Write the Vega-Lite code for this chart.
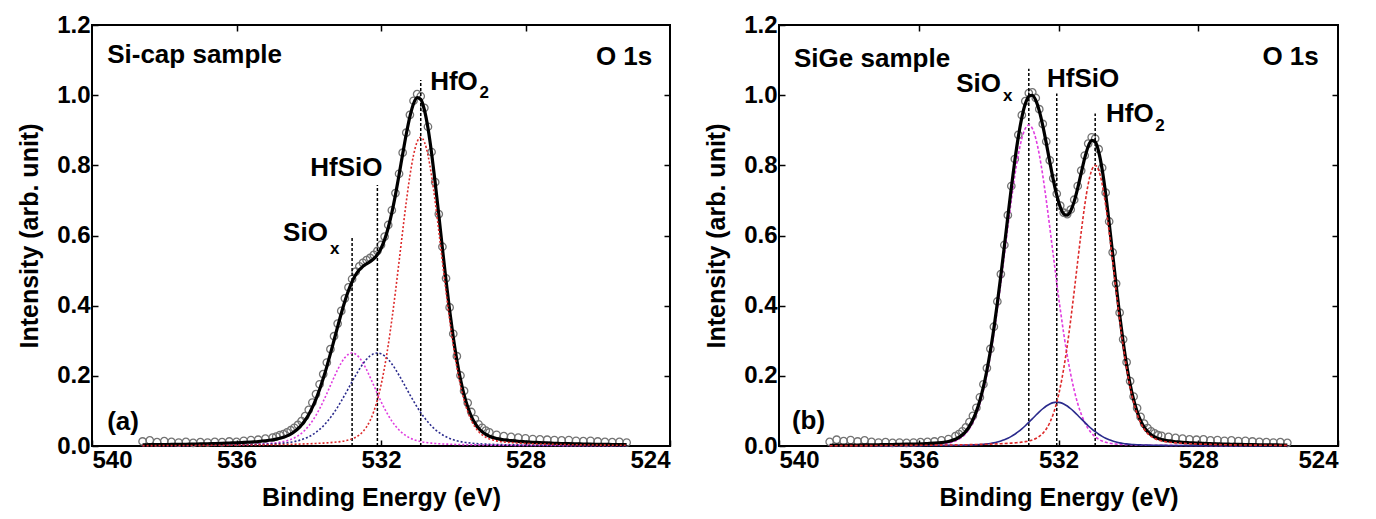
{
  "$schema": "https://vega.github.io/schema/vega-lite/v6.json",
  "padding": {"left": 16, "top": 12, "right": 5, "bottom": 2},
  "spacing": 31,
  "config": {
    "view": {"stroke": "black", "strokeWidth": 2},
    "axis": {
      "labelFont": "Liberation Sans", "labelFontWeight": "bold", "labelFontSize": 24, "labelColor": "black",
      "titleFont": "Liberation Sans", "titleFontWeight": "bold", "titleFontSize": 25, "titleColor": "black",
      "tickColor": "black", "tickWidth": 1.5, "tickSize": -6, "domain": false, "grid": false, "labelPadding": 8
    },
    "axisX": {"titlePadding": 13},
    "axisY": {"titlePadding": 14}
  },
  "datasets": {
    "a": [
      {"E":538.6,"M":0.0012,"B":0.0012,"R":0.0010,"fit":0.0034,"obs":0.013},
      {"E":538.4,"M":0.0013,"B":0.0013,"R":0.0011,"fit":0.0037,"obs":0.016},
      {"E":538.2,"M":0.0014,"B":0.0013,"R":0.0012,"fit":0.0039,"obs":0.011},
      {"E":538.0,"M":0.0015,"B":0.0014,"R":0.0013,"fit":0.0042,"obs":0.014},
      {"E":537.8,"M":0.0016,"B":0.0015,"R":0.0013,"fit":0.0044,"obs":0.012},
      {"E":537.6,"M":0.0017,"B":0.0016,"R":0.0014,"fit":0.0047,"obs":0.010},
      {"E":537.4,"M":0.0018,"B":0.0017,"R":0.0015,"fit":0.0050,"obs":0.012},
      {"E":537.2,"M":0.0020,"B":0.0018,"R":0.0016,"fit":0.0054,"obs":0.009},
      {"E":537.0,"M":0.0022,"B":0.0020,"R":0.0017,"fit":0.0059,"obs":0.011},
      {"E":536.8,"M":0.0024,"B":0.0022,"R":0.0018,"fit":0.0064,"obs":0.010},
      {"E":536.6,"M":0.0026,"B":0.0024,"R":0.0020,"fit":0.0070,"obs":0.012},
      {"E":536.4,"M":0.0029,"B":0.0026,"R":0.0021,"fit":0.0076,"obs":0.011},
      {"E":536.2,"M":0.0033,"B":0.0029,"R":0.0023,"fit":0.0085,"obs":0.013},
      {"E":536.0,"M":0.0037,"B":0.0031,"R":0.0024,"fit":0.0092,"obs":0.012},
      {"E":535.8,"M":0.0041,"B":0.0034,"R":0.0027,"fit":0.0102,"obs":0.015},
      {"E":535.6,"M":0.0047,"B":0.0038,"R":0.0029,"fit":0.0114,"obs":0.017},
      {"E":535.4,"M":0.0055,"B":0.0043,"R":0.0031,"fit":0.0129,"obs":0.018},
      {"E":535.2,"M":0.0065,"B":0.0050,"R":0.0034,"fit":0.0149,"obs":0.021},
      {"E":535.0,"M":0.0081,"B":0.0059,"R":0.0037,"fit":0.0177,"obs":0.024},
      {"E":534.9,"M":0.0092,"B":0.0064,"R":0.0039,"fit":0.0195,"obs":0.027},
      {"E":534.8,"M":0.0106,"B":0.0072,"R":0.0041,"fit":0.0219,"obs":0.031},
      {"E":534.7,"M":0.0125,"B":0.0081,"R":0.0043,"fit":0.0249,"obs":0.034},
      {"E":534.6,"M":0.0151,"B":0.0092,"R":0.0045,"fit":0.0288,"obs":0.039},
      {"E":534.5,"M":0.0185,"B":0.0107,"R":0.0048,"fit":0.0340,"obs":0.045},
      {"E":534.4,"M":0.0229,"B":0.0126,"R":0.0051,"fit":0.0406,"obs":0.052},
      {"E":534.3,"M":0.0288,"B":0.0149,"R":0.0054,"fit":0.0491,"obs":0.060},
      {"E":534.2,"M":0.0362,"B":0.0179,"R":0.0057,"fit":0.0598,"obs":0.071},
      {"E":534.1,"M":0.0457,"B":0.0217,"R":0.0060,"fit":0.0734,"obs":0.085},
      {"E":534.0,"M":0.0572,"B":0.0263,"R":0.0064,"fit":0.0899,"obs":0.103},
      {"E":533.9,"M":0.0712,"B":0.0320,"R":0.0068,"fit":0.1100,"obs":0.124},
      {"E":533.8,"M":0.0875,"B":0.0389,"R":0.0073,"fit":0.1337,"obs":0.148},
      {"E":533.7,"M":0.1062,"B":0.0471,"R":0.0078,"fit":0.1611,"obs":0.176},
      {"E":533.6,"M":0.1270,"B":0.0568,"R":0.0083,"fit":0.1921,"obs":0.205},
      {"E":533.5,"M":0.1494,"B":0.0681,"R":0.0089,"fit":0.2264,"obs":0.238},
      {"E":533.4,"M":0.1726,"B":0.0809,"R":0.0097,"fit":0.2632,"obs":0.276},
      {"E":533.3,"M":0.1957,"B":0.0952,"R":0.0106,"fit":0.3015,"obs":0.313},
      {"E":533.2,"M":0.2176,"B":0.1110,"R":0.0116,"fit":0.3402,"obs":0.349},
      {"E":533.1,"M":0.2368,"B":0.1281,"R":0.0129,"fit":0.3778,"obs":0.385},
      {"E":533.0,"M":0.2519,"B":0.1460,"R":0.0147,"fit":0.4126,"obs":0.421},
      {"E":532.9,"M":0.2616,"B":0.1646,"R":0.0171,"fit":0.4433,"obs":0.452},
      {"E":532.8,"M":0.2650,"B":0.1833,"R":0.0203,"fit":0.4686,"obs":0.476},
      {"E":532.7,"M":0.2616,"B":0.2015,"R":0.0250,"fit":0.4881,"obs":0.497},
      {"E":532.6,"M":0.2519,"B":0.2187,"R":0.0317,"fit":0.5023,"obs":0.512},
      {"E":532.5,"M":0.2368,"B":0.2340,"R":0.0412,"fit":0.5120,"obs":0.522},
      {"E":532.4,"M":0.2176,"B":0.2470,"R":0.0547,"fit":0.5193,"obs":0.530},
      {"E":532.3,"M":0.1957,"B":0.2568,"R":0.0731,"fit":0.5256,"obs":0.536},
      {"E":532.2,"M":0.1726,"B":0.2629,"R":0.0982,"fit":0.5337,"obs":0.545},
      {"E":532.1,"M":0.1494,"B":0.2650,"R":0.1310,"fit":0.5454,"obs":0.556},
      {"E":532.0,"M":0.1270,"B":0.2629,"R":0.1731,"fit":0.5630,"obs":0.573},
      {"E":531.9,"M":0.1062,"B":0.2568,"R":0.2252,"fit":0.5882,"obs":0.597},
      {"E":531.8,"M":0.0875,"B":0.2470,"R":0.2876,"fit":0.6221,"obs":0.630},
      {"E":531.7,"M":0.0712,"B":0.2340,"R":0.3597,"fit":0.6649,"obs":0.672},
      {"E":531.6,"M":0.0572,"B":0.2187,"R":0.4400,"fit":0.7159,"obs":0.721},
      {"E":531.5,"M":0.0457,"B":0.2015,"R":0.5256,"fit":0.7728,"obs":0.776},
      {"E":531.4,"M":0.0362,"B":0.1833,"R":0.6126,"fit":0.8321,"obs":0.836},
      {"E":531.3,"M":0.0288,"B":0.1646,"R":0.6961,"fit":0.8895,"obs":0.893},
      {"E":531.2,"M":0.0229,"B":0.1460,"R":0.7701,"fit":0.9390,"obs":0.944},
      {"E":531.1,"M":0.0185,"B":0.1281,"R":0.8290,"fit":0.9756,"obs":0.984},
      {"E":531.0,"M":0.0151,"B":0.1110,"R":0.8669,"fit":0.9930,"obs":1.003},
      {"E":530.9,"M":0.0125,"B":0.0952,"R":0.8800,"fit":0.9877,"obs":0.997},
      {"E":530.8,"M":0.0106,"B":0.0809,"R":0.8669,"fit":0.9584,"obs":0.964},
      {"E":530.7,"M":0.0092,"B":0.0681,"R":0.8290,"fit":0.9063,"obs":0.910},
      {"E":530.6,"M":0.0081,"B":0.0568,"R":0.7701,"fit":0.8350,"obs":0.838},
      {"E":530.5,"M":0.0072,"B":0.0471,"R":0.6961,"fit":0.7504,"obs":0.752},
      {"E":530.4,"M":0.0065,"B":0.0389,"R":0.6126,"fit":0.6580,"obs":0.661},
      {"E":530.3,"M":0.0059,"B":0.0320,"R":0.5256,"fit":0.5635,"obs":0.568},
      {"E":530.2,"M":0.0055,"B":0.0263,"R":0.4400,"fit":0.4718,"obs":0.478},
      {"E":530.1,"M":0.0051,"B":0.0217,"R":0.3597,"fit":0.3865,"obs":0.395},
      {"E":530.0,"M":0.0047,"B":0.0179,"R":0.2876,"fit":0.3102,"obs":0.320},
      {"E":529.9,"M":0.0044,"B":0.0149,"R":0.2252,"fit":0.2445,"obs":0.256},
      {"E":529.8,"M":0.0041,"B":0.0126,"R":0.1731,"fit":0.1898,"obs":0.201},
      {"E":529.7,"M":0.0039,"B":0.0107,"R":0.1310,"fit":0.1456,"obs":0.157},
      {"E":529.6,"M":0.0037,"B":0.0092,"R":0.0982,"fit":0.1111,"obs":0.123},
      {"E":529.5,"M":0.0035,"B":0.0081,"R":0.0731,"fit":0.0847,"obs":0.097},
      {"E":529.4,"M":0.0033,"B":0.0072,"R":0.0547,"fit":0.0652,"obs":0.077},
      {"E":529.3,"M":0.0031,"B":0.0064,"R":0.0412,"fit":0.0507,"obs":0.062},
      {"E":529.2,"M":0.0029,"B":0.0059,"R":0.0317,"fit":0.0405,"obs":0.052},
      {"E":529.1,"M":0.0028,"B":0.0054,"R":0.0250,"fit":0.0332,"obs":0.044},
      {"E":529.0,"M":0.0026,"B":0.0050,"R":0.0203,"fit":0.0279,"obs":0.039},
      {"E":528.8,"M":0.0024,"B":0.0043,"R":0.0147,"fit":0.0214,"obs":0.032},
      {"E":528.6,"M":0.0022,"B":0.0038,"R":0.0116,"fit":0.0176,"obs":0.028},
      {"E":528.4,"M":0.0020,"B":0.0034,"R":0.0097,"fit":0.0151,"obs":0.026},
      {"E":528.2,"M":0.0018,"B":0.0031,"R":0.0083,"fit":0.0132,"obs":0.024},
      {"E":528.0,"M":0.0017,"B":0.0029,"R":0.0073,"fit":0.0119,"obs":0.022},
      {"E":527.8,"M":0.0016,"B":0.0026,"R":0.0064,"fit":0.0106,"obs":0.020},
      {"E":527.6,"M":0.0015,"B":0.0024,"R":0.0057,"fit":0.0096,"obs":0.019},
      {"E":527.4,"M":0.0014,"B":0.0022,"R":0.0051,"fit":0.0087,"obs":0.018},
      {"E":527.2,"M":0.0013,"B":0.0020,"R":0.0045,"fit":0.0078,"obs":0.017},
      {"E":527.0,"M":0.0012,"B":0.0018,"R":0.0041,"fit":0.0071,"obs":0.016},
      {"E":526.8,"M":0.0011,"B":0.0017,"R":0.0037,"fit":0.0065,"obs":0.017},
      {"E":526.6,"M":0.0010,"B":0.0016,"R":0.0034,"fit":0.0060,"obs":0.015},
      {"E":526.4,"M":0.0010,"B":0.0015,"R":0.0031,"fit":0.0056,"obs":0.014},
      {"E":526.2,"M":0.0009,"B":0.0014,"R":0.0029,"fit":0.0052,"obs":0.015},
      {"E":526.0,"M":0.0008,"B":0.0013,"R":0.0026,"fit":0.0047,"obs":0.013},
      {"E":525.8,"M":0.0008,"B":0.0013,"R":0.0024,"fit":0.0045,"obs":0.012},
      {"E":525.6,"M":0.0007,"B":0.0012,"R":0.0023,"fit":0.0042,"obs":0.011},
      {"E":525.4,"M":0.0007,"B":0.0011,"R":0.0021,"fit":0.0039,"obs":0.012},
      {"E":525.2,"M":0.0007,"B":0.0011,"R":0.0020,"fit":0.0038,"obs":0.010}
    ],
    "b": [
      {"E":538.55,"M":0.0009,"B":0.0004,"R":0.0009,"fit":0.0022,"obs":0.012},
      {"E":538.35,"M":0.0010,"B":0.0004,"R":0.0009,"fit":0.0023,"obs":0.018},
      {"E":538.15,"M":0.0010,"B":0.0005,"R":0.0010,"fit":0.0025,"obs":0.014},
      {"E":537.95,"M":0.0011,"B":0.0005,"R":0.0010,"fit":0.0026,"obs":0.017},
      {"E":537.75,"M":0.0012,"B":0.0006,"R":0.0011,"fit":0.0029,"obs":0.013},
      {"E":537.55,"M":0.0013,"B":0.0006,"R":0.0012,"fit":0.0031,"obs":0.016},
      {"E":537.35,"M":0.0014,"B":0.0007,"R":0.0012,"fit":0.0033,"obs":0.012},
      {"E":537.15,"M":0.0016,"B":0.0007,"R":0.0013,"fit":0.0036,"obs":0.010},
      {"E":536.95,"M":0.0017,"B":0.0008,"R":0.0014,"fit":0.0039,"obs":0.011},
      {"E":536.75,"M":0.0019,"B":0.0009,"R":0.0015,"fit":0.0043,"obs":0.009},
      {"E":536.55,"M":0.0021,"B":0.0009,"R":0.0016,"fit":0.0046,"obs":0.010},
      {"E":536.35,"M":0.0023,"B":0.0010,"R":0.0018,"fit":0.0051,"obs":0.009},
      {"E":536.15,"M":0.0026,"B":0.0011,"R":0.0019,"fit":0.0056,"obs":0.010},
      {"E":535.95,"M":0.0029,"B":0.0012,"R":0.0020,"fit":0.0061,"obs":0.011},
      {"E":535.75,"M":0.0035,"B":0.0013,"R":0.0022,"fit":0.0070,"obs":0.012},
      {"E":535.55,"M":0.0042,"B":0.0014,"R":0.0024,"fit":0.0080,"obs":0.013},
      {"E":535.35,"M":0.0056,"B":0.0016,"R":0.0026,"fit":0.0098,"obs":0.016},
      {"E":535.15,"M":0.0083,"B":0.0018,"R":0.0029,"fit":0.0130,"obs":0.020},
      {"E":534.95,"M":0.0142,"B":0.0020,"R":0.0031,"fit":0.0193,"obs":0.028},
      {"E":534.85,"M":0.0191,"B":0.0022,"R":0.0032,"fit":0.0245,"obs":0.034},
      {"E":534.75,"M":0.0263,"B":0.0023,"R":0.0034,"fit":0.0320,"obs":0.042},
      {"E":534.65,"M":0.0360,"B":0.0026,"R":0.0036,"fit":0.0422,"obs":0.053},
      {"E":534.55,"M":0.0495,"B":0.0028,"R":0.0038,"fit":0.0561,"obs":0.068},
      {"E":534.45,"M":0.0675,"B":0.0032,"R":0.0040,"fit":0.0747,"obs":0.086},
      {"E":534.35,"M":0.0910,"B":0.0036,"R":0.0042,"fit":0.0988,"obs":0.109},
      {"E":534.25,"M":0.1211,"B":0.0042,"R":0.0045,"fit":0.1298,"obs":0.139},
      {"E":534.15,"M":0.1586,"B":0.0050,"R":0.0048,"fit":0.1684,"obs":0.176},
      {"E":534.05,"M":0.2042,"B":0.0060,"R":0.0051,"fit":0.2153,"obs":0.222},
      {"E":533.95,"M":0.2582,"B":0.0073,"R":0.0054,"fit":0.2709,"obs":0.277},
      {"E":533.85,"M":0.3203,"B":0.0090,"R":0.0057,"fit":0.3350,"obs":0.340},
      {"E":533.75,"M":0.3900,"B":0.0113,"R":0.0061,"fit":0.4074,"obs":0.412},
      {"E":533.65,"M":0.4653,"B":0.0141,"R":0.0066,"fit":0.4860,"obs":0.490},
      {"E":533.55,"M":0.5442,"B":0.0176,"R":0.0071,"fit":0.5689,"obs":0.573},
      {"E":533.45,"M":0.6238,"B":0.0220,"R":0.0076,"fit":0.6534,"obs":0.658},
      {"E":533.35,"M":0.7006,"B":0.0273,"R":0.0082,"fit":0.7361,"obs":0.741},
      {"E":533.25,"M":0.7709,"B":0.0335,"R":0.0090,"fit":0.8134,"obs":0.818},
      {"E":533.15,"M":0.8306,"B":0.0407,"R":0.0098,"fit":0.8811,"obs":0.887},
      {"E":533.05,"M":0.8764,"B":0.0488,"R":0.0110,"fit":0.9362,"obs":0.943},
      {"E":532.95,"M":0.9052,"B":0.0578,"R":0.0124,"fit":0.9754,"obs":0.983},
      {"E":532.85,"M":0.9150,"B":0.0674,"R":0.0144,"fit":0.9968,"obs":1.006},
      {"E":532.75,"M":0.9052,"B":0.0774,"R":0.0172,"fit":0.9998,"obs":1.008},
      {"E":532.65,"M":0.8764,"B":0.0875,"R":0.0212,"fit":0.9851,"obs":0.992},
      {"E":532.55,"M":0.8306,"B":0.0972,"R":0.0273,"fit":0.9551,"obs":0.960},
      {"E":532.45,"M":0.7709,"B":0.1062,"R":0.0359,"fit":0.9130,"obs":0.918},
      {"E":532.35,"M":0.7006,"B":0.1140,"R":0.0486,"fit":0.8632,"obs":0.868},
      {"E":532.25,"M":0.6238,"B":0.1199,"R":0.0665,"fit":0.8102,"obs":0.814},
      {"E":532.15,"M":0.5442,"B":0.1237,"R":0.0913,"fit":0.7592,"obs":0.763},
      {"E":532.05,"M":0.4653,"B":0.1250,"R":0.1245,"fit":0.7148,"obs":0.719},
      {"E":531.95,"M":0.3900,"B":0.1237,"R":0.1674,"fit":0.6811,"obs":0.685},
      {"E":531.85,"M":0.3203,"B":0.1199,"R":0.2212,"fit":0.6614,"obs":0.665},
      {"E":531.75,"M":0.2582,"B":0.1140,"R":0.2856,"fit":0.6578,"obs":0.661},
      {"E":531.65,"M":0.2042,"B":0.1062,"R":0.3600,"fit":0.6704,"obs":0.674},
      {"E":531.55,"M":0.1586,"B":0.0972,"R":0.4415,"fit":0.6973,"obs":0.702},
      {"E":531.45,"M":0.1211,"B":0.0875,"R":0.5266,"fit":0.7352,"obs":0.741},
      {"E":531.35,"M":0.0910,"B":0.0774,"R":0.6100,"fit":0.7784,"obs":0.785},
      {"E":531.25,"M":0.0675,"B":0.0674,"R":0.6856,"fit":0.8205,"obs":0.828},
      {"E":531.15,"M":0.0495,"B":0.0578,"R":0.7464,"fit":0.8537,"obs":0.862},
      {"E":531.05,"M":0.0360,"B":0.0488,"R":0.7861,"fit":0.8709,"obs":0.880},
      {"E":530.95,"M":0.0263,"B":0.0407,"R":0.8000,"fit":0.8670,"obs":0.876},
      {"E":530.85,"M":0.0191,"B":0.0335,"R":0.7861,"fit":0.8387,"obs":0.846},
      {"E":530.75,"M":0.0142,"B":0.0273,"R":0.7464,"fit":0.7879,"obs":0.793},
      {"E":530.65,"M":0.0107,"B":0.0220,"R":0.6856,"fit":0.7183,"obs":0.722},
      {"E":530.55,"M":0.0083,"B":0.0176,"R":0.6100,"fit":0.6359,"obs":0.640},
      {"E":530.45,"M":0.0067,"B":0.0141,"R":0.5266,"fit":0.5474,"obs":0.552},
      {"E":530.35,"M":0.0056,"B":0.0113,"R":0.4415,"fit":0.4584,"obs":0.463},
      {"E":530.25,"M":0.0047,"B":0.0090,"R":0.3600,"fit":0.3737,"obs":0.380},
      {"E":530.15,"M":0.0042,"B":0.0073,"R":0.2856,"fit":0.2971,"obs":0.304},
      {"E":530.05,"M":0.0038,"B":0.0060,"R":0.2212,"fit":0.2310,"obs":0.239},
      {"E":529.95,"M":0.0035,"B":0.0050,"R":0.1674,"fit":0.1759,"obs":0.185},
      {"E":529.85,"M":0.0031,"B":0.0042,"R":0.1245,"fit":0.1318,"obs":0.141},
      {"E":529.75,"M":0.0029,"B":0.0036,"R":0.0913,"fit":0.0978,"obs":0.108},
      {"E":529.65,"M":0.0028,"B":0.0032,"R":0.0665,"fit":0.0725,"obs":0.083},
      {"E":529.55,"M":0.0026,"B":0.0028,"R":0.0486,"fit":0.0540,"obs":0.064},
      {"E":529.45,"M":0.0025,"B":0.0026,"R":0.0359,"fit":0.0410,"obs":0.051},
      {"E":529.35,"M":0.0023,"B":0.0023,"R":0.0273,"fit":0.0319,"obs":0.042},
      {"E":529.25,"M":0.0022,"B":0.0022,"R":0.0212,"fit":0.0256,"obs":0.036},
      {"E":529.15,"M":0.0021,"B":0.0020,"R":0.0172,"fit":0.0213,"obs":0.031},
      {"E":529.05,"M":0.0020,"B":0.0019,"R":0.0144,"fit":0.0183,"obs":0.029},
      {"E":528.85,"M":0.0018,"B":0.0016,"R":0.0110,"fit":0.0144,"obs":0.026},
      {"E":528.65,"M":0.0017,"B":0.0015,"R":0.0090,"fit":0.0122,"obs":0.023},
      {"E":528.45,"M":0.0015,"B":0.0013,"R":0.0076,"fit":0.0104,"obs":0.021},
      {"E":528.25,"M":0.0014,"B":0.0012,"R":0.0066,"fit":0.0092,"obs":0.019},
      {"E":528.05,"M":0.0013,"B":0.0011,"R":0.0057,"fit":0.0081,"obs":0.018},
      {"E":527.85,"M":0.0012,"B":0.0010,"R":0.0051,"fit":0.0073,"obs":0.019},
      {"E":527.65,"M":0.0011,"B":0.0009,"R":0.0045,"fit":0.0065,"obs":0.016},
      {"E":527.45,"M":0.0010,"B":0.0009,"R":0.0040,"fit":0.0059,"obs":0.017},
      {"E":527.25,"M":0.0010,"B":0.0008,"R":0.0036,"fit":0.0054,"obs":0.015},
      {"E":527.05,"M":0.0009,"B":0.0007,"R":0.0032,"fit":0.0048,"obs":0.016},
      {"E":526.85,"M":0.0008,"B":0.0007,"R":0.0030,"fit":0.0045,"obs":0.014},
      {"E":526.65,"M":0.0008,"B":0.0006,"R":0.0027,"fit":0.0041,"obs":0.015},
      {"E":526.45,"M":0.0007,"B":0.0006,"R":0.0025,"fit":0.0038,"obs":0.013},
      {"E":526.25,"M":0.0007,"B":0.0005,"R":0.0023,"fit":0.0035,"obs":0.012},
      {"E":526.05,"M":0.0006,"B":0.0005,"R":0.0021,"fit":0.0032,"obs":0.011},
      {"E":525.85,"M":0.0006,"B":0.0005,"R":0.0020,"fit":0.0031,"obs":0.010},
      {"E":525.65,"M":0.0006,"B":0.0004,"R":0.0018,"fit":0.0028,"obs":0.011},
      {"E":525.45,"M":0.0005,"B":0.0004,"R":0.0017,"fit":0.0026,"obs":0.009}
    ],
    "aLines": [{"E":532.8,"lo":0,"top":0.593},{"E":532.1,"lo":0,"top":0.744},{"E":530.9,"lo":0,"top":1.043}],
    "bLines": [{"E":532.85,"lo":0,"top":1.075},{"E":532.05,"lo":0,"top":1.005},{"E":530.95,"lo":0,"top":0.948}],
    "aLeft": [{"E":539.58,"v":1.114,"t":"Si-cap sample"},{"E":539.58,"v":0.068,"t":"(a)"},{"E":534.71,"v":0.607,"t":"SiO"},{"E":533.96,"v":0.792,"t":"HfSiO"},{"E":530.64,"v":1.037,"t":"HfO"}],
    "aRight": [{"E":524.49,"v":1.109,"t":"O 1s"}],
    "aSub": [{"E":533.41,"v":0.561,"t":"x"},{"E":529.27,"v":1.006,"t":"2"}],
    "bLeft": [{"E":539.57,"v":1.104,"t":"SiGe sample"},{"E":539.63,"v":0.071,"t":"(b)"},{"E":534.93,"v":1.033,"t":"SiO"},{"E":532.33,"v":1.047,"t":"HfSiO"},{"E":530.64,"v":0.945,"t":"HfO"}],
    "bRight": [{"E":524.55,"v":1.11,"t":"O 1s"}],
    "bSub": [{"E":533.59,"v":0.999,"t":"x"},{"E":529.23,"v":0.911,"t":"2"}]
  },
  "hconcat": [
    {
      "width": 578, "height": 421,
      "resolve": {"axis": {"x": "independent", "y": "independent"}},
      "layer": [
        {"data": {"name": "a"}, "mark": {"type": "point", "shape": "circle", "filled": false, "size": 55, "stroke": "#737373", "strokeWidth": 1.3, "opacity": 1},
         "encoding": {
           "x": {"field": "E", "type": "quantitative", "scale": {"domain": [524, 540], "reverse": true, "zero": false, "nice": false}, "axis": {"orient": "bottom", "values": [524, 528, 532, 536, 540], "format": "d", "title": "Binding Energy (eV)"}},
           "y": {"field": "obs", "type": "quantitative", "scale": {"domain": [0, 1.2], "nice": false, "zero": false}, "axis": {"orient": "left", "values": [0, 0.2, 0.4, 0.6, 0.8, 1.0, 1.2], "format": ".1f", "title": "Intensity (arb. unit)"}}}},
        {"data": {"name": "aLines"}, "mark": {"type": "rule", "color": "black", "strokeWidth": 1.5, "strokeDash": [3, 2]},
         "encoding": {"x": {"field": "E", "type": "quantitative", "axis": {"orient": "bottom", "labels": false, "ticks": false, "domain": false, "title": null}}, "y": {"field": "lo", "type": "quantitative", "axis": {"orient": "left", "labels": false, "ticks": false, "domain": false, "title": null}}, "y2": {"field": "top"}}},
        {"data": {"name": "a"}, "mark": {"type": "line", "color": "#e03ce0", "strokeWidth": 1.6, "strokeDash": [2, 2], "interpolate": "monotone"},
         "encoding": {"x": {"field": "E", "type": "quantitative", "axis": {"orient": "bottom", "labels": false, "ticks": false, "domain": false, "title": null}}, "y": {"field": "M", "type": "quantitative", "axis": {"orient": "left", "labels": false, "ticks": false, "domain": false, "title": null}}}},
        {"data": {"name": "a"}, "mark": {"type": "line", "color": "#2a2a8c", "strokeWidth": 1.6, "strokeDash": [2, 2], "interpolate": "monotone"},
         "encoding": {"x": {"field": "E", "type": "quantitative", "axis": {"orient": "bottom", "labels": false, "ticks": false, "domain": false, "title": null}}, "y": {"field": "B", "type": "quantitative", "axis": {"orient": "left", "labels": false, "ticks": false, "domain": false, "title": null}}}},
        {"data": {"name": "a"}, "mark": {"type": "line", "color": "black", "strokeWidth": 3.2, "interpolate": "monotone"},
         "encoding": {
           "x": {"field": "E", "type": "quantitative", "axis": {"orient": "top", "values": [528, 532, 536], "labels": false, "title": null}},
           "y": {"field": "fit", "type": "quantitative", "axis": {"orient": "right", "values": [0.2, 0.4, 0.6, 0.8, 1.0], "labels": false, "title": null}}}},
        {"data": {"name": "a"}, "mark": {"type": "line", "color": "#dd2a2a", "strokeWidth": 1.6, "strokeDash": [2, 2], "interpolate": "monotone"},
         "encoding": {"x": {"field": "E", "type": "quantitative", "axis": {"orient": "bottom", "labels": false, "ticks": false, "domain": false, "title": null}}, "y": {"field": "R", "type": "quantitative", "axis": {"orient": "left", "labels": false, "ticks": false, "domain": false, "title": null}}}},
        {"data": {"name": "aLeft"}, "mark": {"type": "text", "align": "left", "baseline": "middle", "font": "Liberation Sans", "fontWeight": "bold", "fontSize": 26, "color": "black"},
         "encoding": {"x": {"field": "E", "type": "quantitative", "axis": {"orient": "bottom", "labels": false, "ticks": false, "domain": false, "title": null}}, "y": {"field": "v", "type": "quantitative", "axis": {"orient": "left", "labels": false, "ticks": false, "domain": false, "title": null}}, "text": {"field": "t", "type": "nominal"}}},
        {"data": {"name": "aRight"}, "mark": {"type": "text", "align": "right", "baseline": "middle", "font": "Liberation Sans", "fontWeight": "bold", "fontSize": 26, "color": "black"},
         "encoding": {"x": {"field": "E", "type": "quantitative", "axis": {"orient": "bottom", "labels": false, "ticks": false, "domain": false, "title": null}}, "y": {"field": "v", "type": "quantitative", "axis": {"orient": "left", "labels": false, "ticks": false, "domain": false, "title": null}}, "text": {"field": "t", "type": "nominal"}}},
        {"data": {"name": "aSub"}, "mark": {"type": "text", "align": "left", "baseline": "middle", "font": "Liberation Sans", "fontWeight": "bold", "fontSize": 17, "color": "black"},
         "encoding": {"x": {"field": "E", "type": "quantitative", "axis": {"orient": "bottom", "labels": false, "ticks": false, "domain": false, "title": null}}, "y": {"field": "v", "type": "quantitative", "axis": {"orient": "left", "labels": false, "ticks": false, "domain": false, "title": null}}, "text": {"field": "t", "type": "nominal"}}}
      ]
    },
    {
      "width": 559, "height": 421,
      "resolve": {"axis": {"x": "independent", "y": "independent"}},
      "layer": [
        {"data": {"name": "b"}, "mark": {"type": "point", "shape": "circle", "filled": false, "size": 55, "stroke": "#737373", "strokeWidth": 1.3, "opacity": 1},
         "encoding": {
           "x": {"field": "E", "type": "quantitative", "scale": {"domain": [524, 540], "reverse": true, "zero": false, "nice": false}, "axis": {"orient": "bottom", "values": [524, 528, 532, 536, 540], "format": "d", "title": "Binding Energy (eV)"}},
           "y": {"field": "obs", "type": "quantitative", "scale": {"domain": [0, 1.2], "nice": false, "zero": false}, "axis": {"orient": "left", "values": [0, 0.2, 0.4, 0.6, 0.8, 1.0, 1.2], "format": ".1f", "title": "Intensity (arb. unit)"}}}},
        {"data": {"name": "bLines"}, "mark": {"type": "rule", "color": "black", "strokeWidth": 1.5, "strokeDash": [3, 2]},
         "encoding": {"x": {"field": "E", "type": "quantitative", "axis": {"orient": "bottom", "labels": false, "ticks": false, "domain": false, "title": null}}, "y": {"field": "lo", "type": "quantitative", "axis": {"orient": "left", "labels": false, "ticks": false, "domain": false, "title": null}}, "y2": {"field": "top"}}},
        {"data": {"name": "b"}, "mark": {"type": "line", "color": "#e03ce0", "strokeWidth": 1.6, "strokeDash": [3, 2], "interpolate": "monotone"},
         "encoding": {"x": {"field": "E", "type": "quantitative", "axis": {"orient": "bottom", "labels": false, "ticks": false, "domain": false, "title": null}}, "y": {"field": "M", "type": "quantitative", "axis": {"orient": "left", "labels": false, "ticks": false, "domain": false, "title": null}}}},
        {"data": {"name": "b"}, "mark": {"type": "line", "color": "#2a2a8c", "strokeWidth": 1.6, "interpolate": "monotone"},
         "encoding": {"x": {"field": "E", "type": "quantitative", "axis": {"orient": "bottom", "labels": false, "ticks": false, "domain": false, "title": null}}, "y": {"field": "B", "type": "quantitative", "axis": {"orient": "left", "labels": false, "ticks": false, "domain": false, "title": null}}}},
        {"data": {"name": "b"}, "mark": {"type": "line", "color": "black", "strokeWidth": 3.2, "interpolate": "monotone"},
         "encoding": {
           "x": {"field": "E", "type": "quantitative", "axis": {"orient": "top", "values": [528, 532, 536], "labels": false, "title": null}},
           "y": {"field": "fit", "type": "quantitative", "axis": {"orient": "right", "values": [0.2, 0.4, 0.6, 0.8, 1.0], "labels": false, "title": null}}}},
        {"data": {"name": "b"}, "mark": {"type": "line", "color": "#dd2a2a", "strokeWidth": 1.6, "strokeDash": [3, 2], "interpolate": "monotone"},
         "encoding": {"x": {"field": "E", "type": "quantitative", "axis": {"orient": "bottom", "labels": false, "ticks": false, "domain": false, "title": null}}, "y": {"field": "R", "type": "quantitative", "axis": {"orient": "left", "labels": false, "ticks": false, "domain": false, "title": null}}}},
        {"data": {"name": "bLeft"}, "mark": {"type": "text", "align": "left", "baseline": "middle", "font": "Liberation Sans", "fontWeight": "bold", "fontSize": 26, "color": "black"},
         "encoding": {"x": {"field": "E", "type": "quantitative", "axis": {"orient": "bottom", "labels": false, "ticks": false, "domain": false, "title": null}}, "y": {"field": "v", "type": "quantitative", "axis": {"orient": "left", "labels": false, "ticks": false, "domain": false, "title": null}}, "text": {"field": "t", "type": "nominal"}}},
        {"data": {"name": "bRight"}, "mark": {"type": "text", "align": "right", "baseline": "middle", "font": "Liberation Sans", "fontWeight": "bold", "fontSize": 26, "color": "black"},
         "encoding": {"x": {"field": "E", "type": "quantitative", "axis": {"orient": "bottom", "labels": false, "ticks": false, "domain": false, "title": null}}, "y": {"field": "v", "type": "quantitative", "axis": {"orient": "left", "labels": false, "ticks": false, "domain": false, "title": null}}, "text": {"field": "t", "type": "nominal"}}},
        {"data": {"name": "bSub"}, "mark": {"type": "text", "align": "left", "baseline": "middle", "font": "Liberation Sans", "fontWeight": "bold", "fontSize": 17, "color": "black"},
         "encoding": {"x": {"field": "E", "type": "quantitative", "axis": {"orient": "bottom", "labels": false, "ticks": false, "domain": false, "title": null}}, "y": {"field": "v", "type": "quantitative", "axis": {"orient": "left", "labels": false, "ticks": false, "domain": false, "title": null}}, "text": {"field": "t", "type": "nominal"}}}
      ]
    }
  ]
}
